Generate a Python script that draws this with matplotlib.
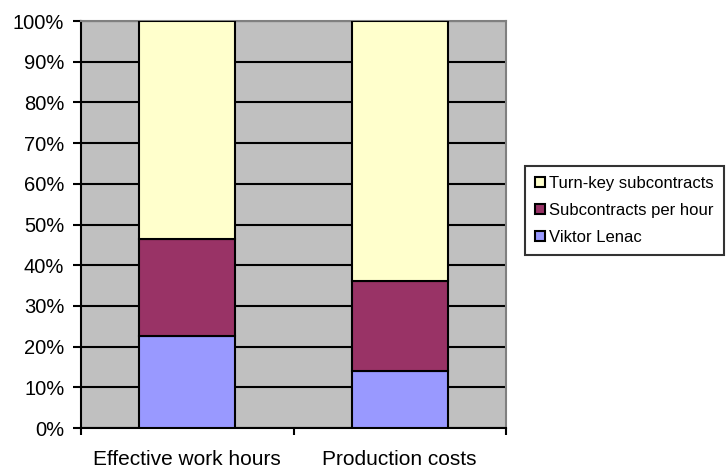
import numpy as np
import matplotlib.pyplot as plt

plt.rcParams['font.family'] = ['Liberation Sans', 'DejaVu Sans']

categories = ['Effective work hours', 'Production costs']
viktor_lenac = [22.7, 14.1]
per_hour = [23.7, 22.0]
turn_key = [53.6, 63.9]

colors = ['#9999ff', '#993366', '#ffffcc']
labels = ['Viktor Lenac', 'Subcontracts per hour', 'Turn-key subcontracts']

fig = plt.figure(figsize=(7.26, 4.69), dpi=100)
ax = fig.add_axes([81 / 726, 1 - 428 / 469, 425 / 726, 407 / 469])
ax.set_facecolor('#c0c0c0')

x = np.arange(len(categories))
bottom = np.zeros(len(categories))
handles = []
for vals, c, lab in zip([viktor_lenac, per_hour, turn_key], colors, labels):
    h = ax.bar(x, vals, 0.45, bottom=bottom, color=c, edgecolor='black',
               linewidth=1.5, label=lab, zorder=3)
    handles.append(h)
    bottom += np.array(vals)

ax.set_xlim(-0.5, 1.5)
ax.set_ylim(0, 100)
ax.set_yticks(np.arange(0, 101, 10))
ax.set_yticklabels([f'{v}%' for v in range(0, 101, 10)], fontsize=14.5)
ax.yaxis.grid(True, color='black', linewidth=1.5, zorder=1)
ax.set_axisbelow(True)

ax.set_xticks([-0.5, 0.5, 1.5])
ax.set_xticklabels([])
ax.set_xticks(x, minor=True)
ax.set_xticklabels(categories, minor=True, fontsize=15)
ax.tick_params(axis='x', which='minor', length=0, pad=16)
ax.tick_params(axis='x', which='major', length=5, width=1.5, direction='out')
ax.tick_params(axis='y', length=6, width=1.5, direction='out', pad=6)

for side in ['left', 'bottom']:
    ax.spines[side].set_linewidth(1.5)
    ax.spines[side].set_color('black')
for side in ['top', 'right']:
    ax.spines[side].set_linewidth(1.5)
    ax.spines[side].set_color('#808080')

leg = fig.legend(handles[::-1], labels[::-1], loc='upper left',
                 bbox_to_anchor=(525 / 726, 1 - 166 / 469), fontsize=12,
                 frameon=True, fancybox=False, edgecolor='black',
                 handlelength=0.6, handleheight=0.6, handletextpad=0.25,
                 borderpad=0.6, labelspacing=0.72, borderaxespad=0)
leg.get_frame().set_linewidth(1.5)

fig.savefig('out.png', dpi=100)
